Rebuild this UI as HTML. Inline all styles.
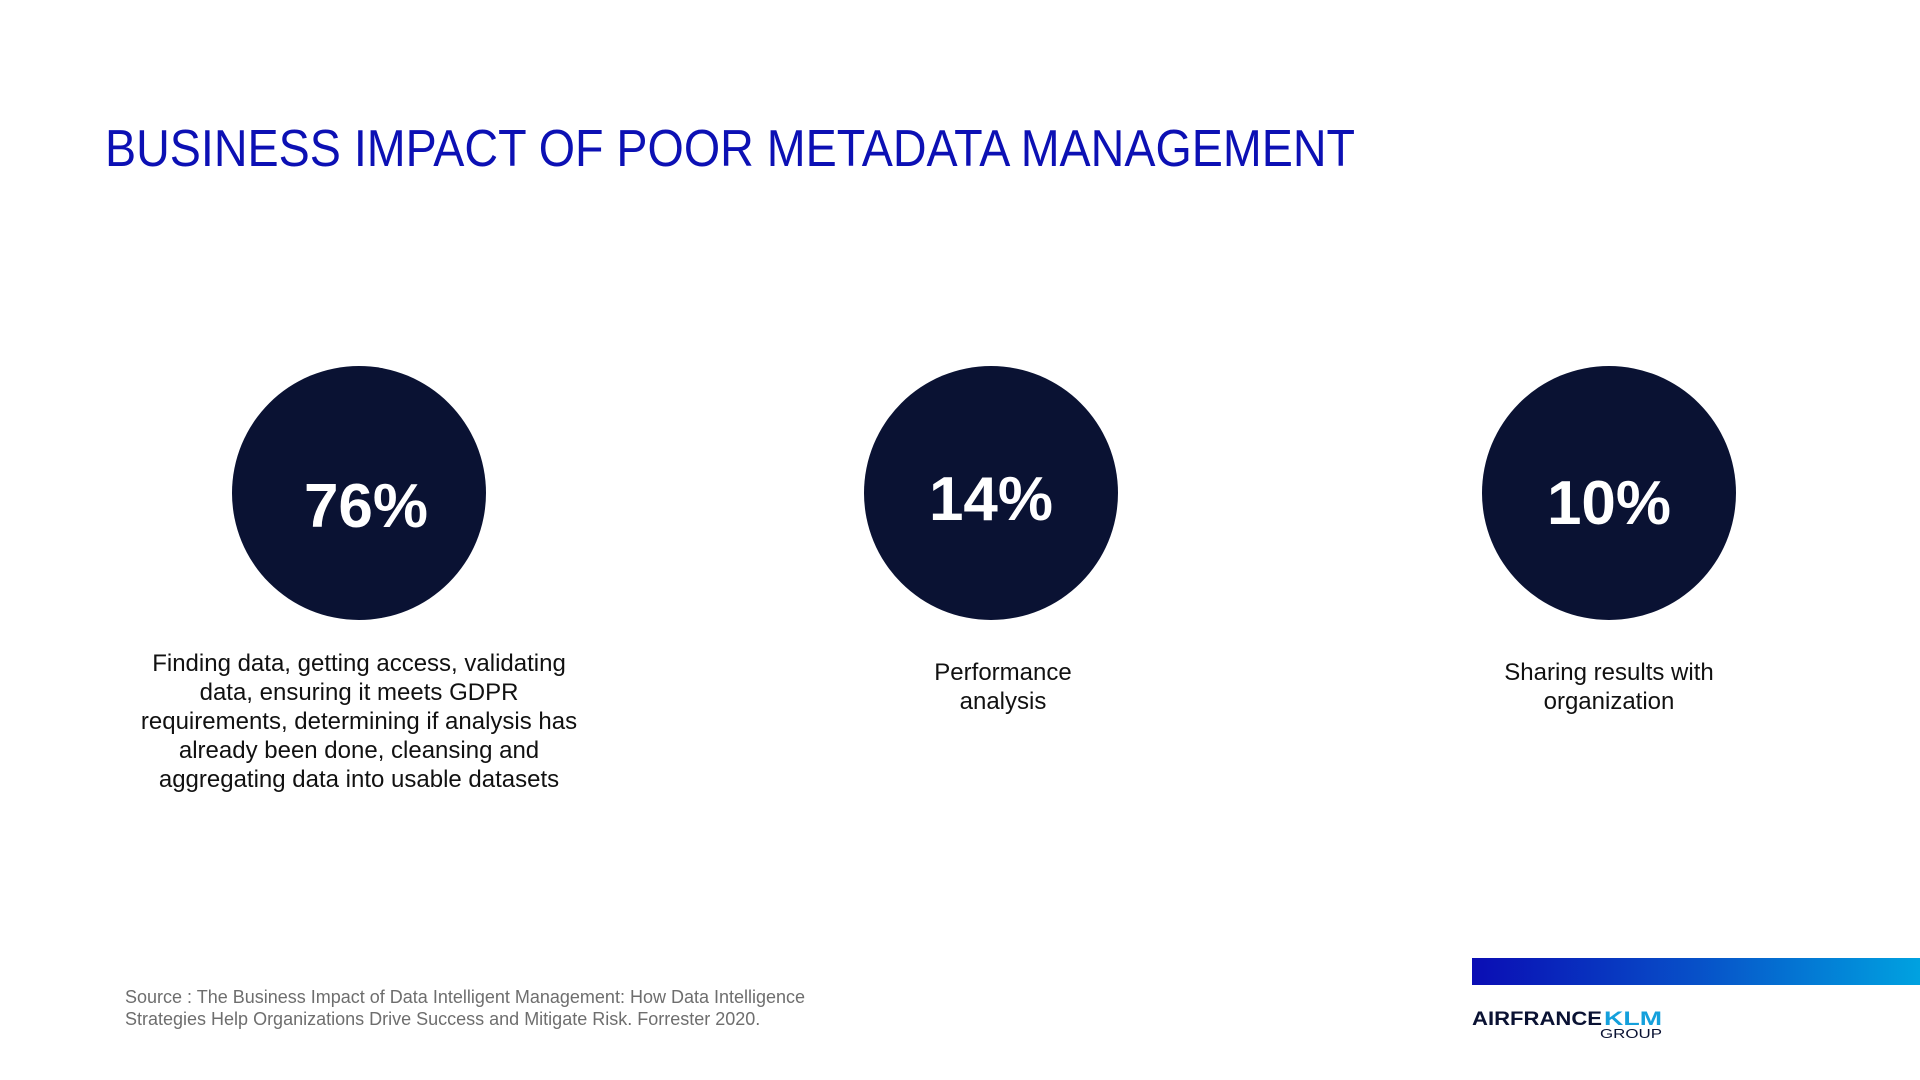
<!DOCTYPE html>
<html><head><meta charset="utf-8"><style>
html,body{margin:0;padding:0;background:#fff;width:1920px;height:1080px;overflow:hidden}
svg{display:block;font-family:"Liberation Sans",sans-serif}
</style></head><body>
<svg width="1920" height="1080" viewBox="0 0 1920 1080">
<defs><linearGradient id="g" x1="0" x2="1"><stop offset="0" stop-color="#0a0db4"/><stop offset="0.5" stop-color="#0750c8"/><stop offset="1" stop-color="#00a2e0"/></linearGradient></defs>
<text x="105" y="166" font-size="52" fill="#0c10b4" textLength="1250" lengthAdjust="spacingAndGlyphs">BUSINESS IMPACT OF POOR METADATA MANAGEMENT</text>
<g id="stats"></g>
<text font-size="18" fill="#6e6e6e"><tspan x="125" y="1003">Source : The Business Impact of Data Intelligent Management: How Data Intelligence</tspan><tspan x="125" y="1025">Strategies Help Organizations Drive Success and Mitigate Risk. Forrester 2020.</tspan></text>
<rect x="1472" y="958" width="448" height="27" fill="url(#g)"/>
<g>
<text x="1472" y="1025" font-size="19" font-weight="bold" fill="#0a1233" textLength="130" lengthAdjust="spacingAndGlyphs">AIRFRANCE</text>
<text x="1604" y="1025" font-size="19" font-weight="bold" fill="#14a0dc" textLength="58" lengthAdjust="spacingAndGlyphs">KLM</text>
<text x="1600" y="1038" font-size="13" fill="#0a1233" textLength="62" lengthAdjust="spacingAndGlyphs">GROUP</text>
</g>
</svg>
<script>
const values = [76, 14, 10];
const labels = [
  ["Finding data, getting access, validating","data, ensuring it meets GDPR","requirements, determining if analysis has","already been done, cleansing and","aggregating data into usable datasets"],
  ["Performance","analysis"],
  ["Sharing results with","organization"]
];
const cx=[359,991,1609], tx=[359,1003,1609], vx=[366,991,1609], vy=[527,520,524];
const ns="http://www.w3.org/2000/svg";
const g=document.getElementById('stats');
values.forEach((v,i)=>{
  const c=document.createElementNS(ns,'circle');
  
  
  c.setAttribute('cx',cx[i]);c.setAttribute('cy',493);c.setAttribute('r',127);c.setAttribute('fill','#0a1233');
  g.appendChild(c);
  const t=document.createElementNS(ns,'text');
  
  
  t.setAttribute('x',vx[i]);t.setAttribute('y',vy[i]);t.setAttribute('text-anchor','middle');
  t.setAttribute('font-size','62');t.setAttribute('font-weight','bold');t.setAttribute('fill','#fff');
  t.textContent=v+'%';g.appendChild(t);
  const top = labels[i].length>2?671:680;
  labels[i].forEach((l,j)=>{
    const d=document.createElementNS(ns,'text');
    
    
    d.setAttribute('x',tx[i]);d.setAttribute('y',top+j*29);d.setAttribute('text-anchor','middle');
    d.setAttribute('font-size','24');d.setAttribute('fill','#111');
    d.textContent=l;g.appendChild(d);
  });
});
</script>
</body></html>
